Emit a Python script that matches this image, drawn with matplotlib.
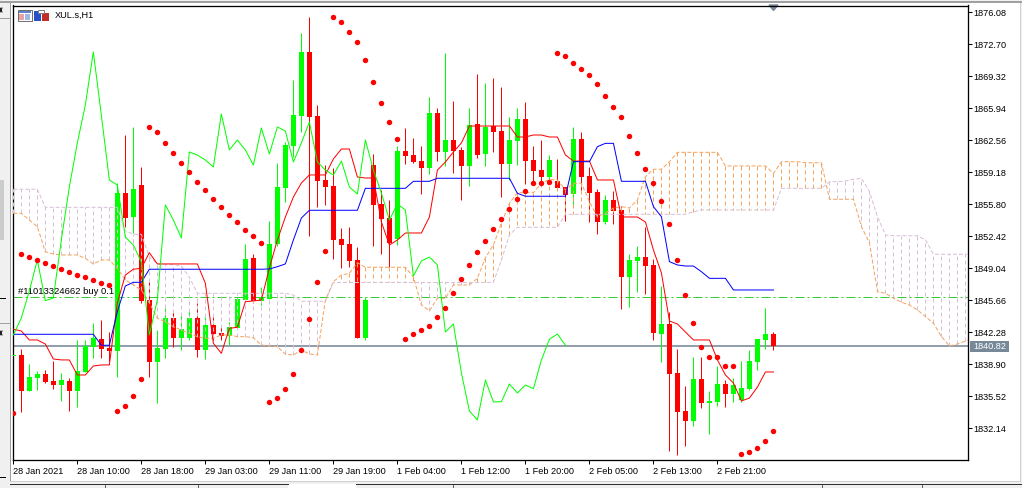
import matplotlib
matplotlib.use('Agg')
import matplotlib.pyplot as plt
from matplotlib.patches import Rectangle

plt.rcParams['font.family'] = ['Liberation Sans', 'DejaVu Sans']

opens = [1839.78, 1839.85, 1836.11, 1837.49, 1837.88, 1837.14, 1836.75, 1837.14, 1836.11, 1838.09, 1840.76, 1841.57,
         1840.65, 1840.34, 1856.99, 1854.46, 1857.84, 1845.69, 1839.14, 1840.52, 1843.79, 1841.68, 1841.68, 1843.79,
         1840.41, 1843.05, 1842.21, 1841.89, 1842.74, 1845.69, 1850.13, 1845.59, 1845.80, 1851.61, 1857.52, 1861.96,
         1865.13, 1871.89, 1865.13, 1858.37, 1857.73, 1852.14, 1851.61, 1849.92, 1841.68, 1859.95, 1855.83, 1854.35,
         1852.14, 1861.43, 1861.01, 1860.37, 1859.63, 1865.44, 1861.33, 1862.59, 1861.54, 1859.85, 1864.28, 1861.11,
         1864.07, 1863.54, 1860.06, 1862.49, 1864.81, 1860.48, 1859.42, 1858.68, 1858.26, 1857.63, 1856.89, 1862.70,
         1858.79, 1857.10, 1853.93, 1856.26, 1855.20, 1848.12, 1849.81, 1850.23, 1849.39, 1842.10, 1843.16, 1837.98,
         1833.97, 1832.91, 1837.35, 1834.81, 1834.92, 1836.82, 1835.76, 1835.13, 1836.29, 1839.14, 1841.47, 1842.10]
closes = [1839.88, 1836.11, 1837.56, 1837.88, 1837.03, 1836.75, 1837.24, 1836.11, 1838.19, 1840.83, 1841.68, 1840.55,
          1840.34, 1856.99, 1854.35, 1857.42, 1845.59, 1839.14, 1840.62, 1843.79, 1841.68, 1842.63, 1843.79, 1840.41,
          1843.05, 1842.10, 1841.89, 1842.84, 1845.80, 1850.02, 1845.59, 1846.01, 1851.61, 1857.63, 1862.06, 1865.23,
          1871.89, 1865.02, 1858.26, 1857.63, 1852.03, 1851.50, 1849.81, 1841.68, 1845.69, 1855.73, 1854.25, 1851.71,
          1861.43, 1860.90, 1860.27, 1859.63, 1865.44, 1861.33, 1862.59, 1861.43, 1859.85, 1864.18, 1861.01, 1863.97,
          1863.44, 1860.06, 1862.59, 1864.81, 1860.37, 1859.32, 1858.68, 1860.48, 1857.52, 1856.78, 1862.70, 1858.68,
          1856.99, 1853.93, 1856.26, 1855.09, 1848.12, 1849.92, 1850.23, 1849.28, 1842.21, 1843.16, 1837.88, 1833.86,
          1832.91, 1837.35, 1834.81, 1835.02, 1836.82, 1835.76, 1836.71, 1836.40, 1839.25, 1841.57, 1842.10, 1840.82]
highs = [1839.88, 1840.52, 1838.93, 1838.22, 1838.30, 1839.25, 1837.98, 1837.45, 1841.47, 1841.47, 1843.23, 1843.58,
         1842.28, 1858.05, 1863.12, 1863.97, 1859.74, 1847.63, 1842.52, 1844.85, 1844.56, 1844.11, 1844.74, 1845.34,
         1843.93, 1843.87, 1842.84, 1843.40, 1846.04, 1851.61, 1850.55, 1847.07, 1854.04, 1860.16, 1862.38, 1868.93,
         1873.89, 1875.58, 1866.29, 1859.95, 1859.63, 1853.30, 1853.40, 1851.29, 1846.01, 1861.11, 1857.31, 1856.26,
         1861.96, 1863.86, 1862.80, 1861.96, 1867.14, 1865.97, 1871.78, 1866.71, 1861.85, 1865.97, 1869.56, 1868.61,
         1869.14, 1868.19, 1865.02, 1865.97, 1866.61, 1861.96, 1862.59, 1861.01, 1860.59, 1857.63, 1863.97, 1863.44,
         1859.74, 1857.42, 1856.78, 1857.21, 1855.62, 1850.55, 1851.40, 1853.43, 1850.02, 1847.17, 1844.42, 1840.52,
         1836.61, 1839.67, 1839.67, 1836.08, 1838.72, 1837.24, 1837.45, 1839.25, 1840.41, 1841.57, 1844.85, 1842.31]
lows = [1839.78, 1833.89, 1836.11, 1836.22, 1836.93, 1836.32, 1835.06, 1834.00, 1834.42, 1838.05, 1839.53, 1839.53,
        1839.28, 1837.53, 1853.40, 1852.77, 1845.38, 1837.59, 1834.85, 1839.53, 1840.76, 1840.41, 1841.47, 1839.70,
        1839.46, 1841.47, 1841.47, 1840.94, 1842.74, 1845.69, 1845.38, 1845.16, 1845.80, 1851.40, 1856.04, 1860.80,
        1863.44, 1852.45, 1855.52, 1855.73, 1850.02, 1849.07, 1849.18, 1841.68, 1841.47, 1851.40, 1850.55, 1849.18,
        1851.50, 1860.06, 1860.16, 1856.89, 1859.00, 1860.37, 1859.85, 1859.11, 1856.26, 1857.73, 1860.69, 1859.85,
        1861.33, 1856.57, 1858.37, 1859.95, 1857.95, 1858.05, 1858.05, 1858.05, 1857.31, 1854.04, 1855.62, 1857.31,
        1853.93, 1852.66, 1853.72, 1853.72, 1844.74, 1844.95, 1846.54, 1846.33, 1841.47, 1839.14, 1829.74, 1829.32,
        1830.27, 1832.38, 1834.28, 1831.54, 1834.50, 1834.39, 1834.92, 1834.92, 1836.19, 1838.30, 1840.52, 1840.41]

tenkan = [1842.60, 1842.42, 1841.47, 1841.47, 1841.04, 1839.46, 1839.36, 1839.36, 1837.77, 1837.77, 1838.72, 1838.83,
          1838.83, 1845.38, 1848.33, 1848.94, 1849.04, 1850.69, 1849.50, 1849.50, 1849.50, 1849.50, 1849.50, 1849.50,
          1847.46, 1841.12, 1840.06, 1842.70, 1842.81, 1845.51, 1845.59, 1845.69, 1849.07, 1852.03, 1854.46, 1856.57,
          1858.05, 1858.90, 1858.90, 1858.90, 1860.59, 1861.64, 1861.64, 1858.68, 1858.58, 1858.58, 1853.93, 1851.50,
          1852.03, 1852.77, 1852.77, 1852.77, 1854.46, 1859.42, 1860.27, 1861.33, 1862.28, 1864.07, 1864.07, 1864.07,
          1864.07, 1864.07, 1864.07, 1862.91, 1862.91, 1863.12, 1863.12, 1862.91, 1862.91, 1861.01, 1860.37, 1860.37,
          1860.37, 1858.37, 1858.37, 1858.37, 1854.46, 1854.46, 1854.46, 1853.93, 1850.97, 1848.54, 1843.47, 1843.16,
          1842.31, 1841.47, 1841.47, 1841.47, 1839.36, 1837.77, 1836.92, 1835.02, 1835.34, 1836.50, 1838.09, 1838.09]
kijun = [1842.07, 1842.07, 1842.07, 1842.07, 1842.07, 1842.07, 1842.07, 1842.07, 1842.07, 1842.07, 1842.07, 1840.91,
         1840.91, 1844.46, 1847.17, 1847.56, 1847.56, 1848.94, 1848.94, 1848.94, 1848.94, 1848.94, 1848.94, 1848.94,
         1848.94, 1848.94, 1848.94, 1848.94, 1848.94, 1848.94, 1848.94, 1848.94, 1848.97, 1849.21, 1849.50, 1852.03,
         1854.35, 1855.17, 1855.17, 1855.17, 1855.17, 1855.17, 1855.17, 1855.17, 1857.49, 1857.49, 1857.49, 1857.49,
         1857.49, 1857.49, 1858.23, 1858.23, 1858.23, 1858.55, 1858.55, 1858.55, 1858.55, 1858.55, 1858.55, 1858.55,
         1858.55, 1858.55, 1858.55, 1856.96, 1856.65, 1856.65, 1856.65, 1856.65, 1856.65, 1856.65, 1860.30, 1860.30,
         1860.30, 1861.89, 1862.24, 1862.24, 1858.23, 1858.23, 1858.23, 1858.23, 1855.55, 1854.49, 1849.74, 1849.39,
         1849.28, 1849.28, 1848.68, 1847.98, 1847.98, 1847.98, 1846.75, 1846.75, 1846.75, 1846.75, 1846.75, 1846.75]
chikou = [1842.00, 1843.79, 1846.64, 1849.92, 1845.62, 1845.90, 1852.03, 1857.63, 1862.28, 1866.29, 1871.89, 1865.23,
          1858.37, 1857.84, 1852.35, 1851.50, 1849.71, 1842.00, 1845.69, 1855.73, 1854.14, 1852.24, 1861.33, 1861.01,
          1860.48, 1859.74, 1865.34, 1861.54, 1862.59, 1861.54, 1859.95, 1863.86, 1861.11, 1863.97, 1863.54, 1860.27,
          1862.28, 1864.49, 1860.27, 1859.42, 1858.90, 1860.37, 1857.63, 1856.89, 1862.59, 1859.42, 1857.00, 1854.14,
          1855.83, 1855.20, 1848.23, 1849.81, 1850.23, 1849.39, 1842.31, 1843.16, 1837.98, 1833.97, 1833.02, 1837.24,
          1834.92, 1834.95, 1836.82, 1835.87, 1836.71, 1836.32, 1839.36, 1841.54, 1842.10, 1840.91]
sar = [1833.72, 1850.52, 1850.20, 1849.89, 1849.57, 1849.25, 1848.94, 1848.62, 1848.30, 1848.09, 1847.77, 1847.46,
       1847.25, 1833.94, 1834.46, 1835.52, 1837.32, 1863.93, 1863.41, 1862.24, 1861.19, 1860.13, 1859.18, 1858.12,
       1857.28, 1856.33, 1855.48, 1854.64, 1853.90, 1853.05, 1852.42, 1851.71, 1834.88, 1835.31, 1836.26, 1837.84,
       1840.38, 1843.65, 1847.56, 1850.84, 1875.55, 1875.03, 1873.97, 1872.91, 1871.01, 1868.69, 1866.47, 1864.46,
       1862.67, 1841.54, 1842.07, 1842.49, 1842.91, 1843.87, 1844.82, 1846.40, 1847.88, 1849.36, 1850.73, 1851.89,
       1853.16, 1854.22, 1855.27, 1856.33, 1857.17, 1858.02, 1858.02, 1858.12, 1871.75, 1871.43, 1870.69, 1870.06,
       1869.43, 1868.48, 1867.21, 1866.05, 1864.99, 1862.98, 1861.19, 1859.50, 1858.02, 1856.12, 1853.69, 1849.89,
       1846.19, 1843.23, 1840.70, 1839.64, 1839.64, 1838.69, 1838.69, 1829.40, 1829.61, 1830.03, 1830.77, 1831.82]
senkou_a = [1854.85, 1854.85, 1854.14, 1853.43, 1850.79, 1850.55, 1850.45, 1850.45, 1850.45, 1850.10, 1849.50, 1849.92,
            1849.92, 1849.04, 1847.81, 1847.28, 1846.75, 1845.38, 1843.76, 1843.40, 1842.87, 1842.52, 1842.17, 1841.82,
            1841.65, 1841.65, 1842.00, 1842.00, 1841.82, 1841.82, 1841.71, 1840.94, 1840.83, 1840.76, 1839.96, 1839.88,
            1840.41, 1839.99, 1839.88, 1845.69, 1847.63, 1848.33, 1848.51, 1849.63, 1849.15, 1849.15, 1849.15, 1849.15,
            1849.15, 1849.15, 1848.12, 1845.16, 1844.56, 1845.87, 1845.87, 1847.28, 1847.28, 1847.28, 1847.98, 1850.16,
            1851.50, 1853.79, 1855.91, 1857.03, 1857.03, 1857.03, 1858.02, 1858.44, 1858.37, 1857.31, 1858.02, 1858.02,
            1856.08, 1854.49, 1854.88, 1855.41, 1855.55, 1855.41, 1856.26, 1858.72, 1859.50, 1859.50, 1860.30, 1861.29,
            1861.29, 1861.29, 1861.29, 1861.29, 1861.29, 1859.85, 1859.85, 1859.85, 1859.85, 1859.85, 1859.85, 1859.07,
            1860.30, 1860.30, 1860.30, 1860.19, 1860.19, 1860.19, 1856.33, 1856.33, 1856.33, 1856.33, 1853.43, 1851.71,
            1846.57, 1846.40, 1845.87, 1845.45, 1845.16, 1844.64, 1843.93, 1843.23, 1841.82, 1840.83, 1841.04, 1841.36,
            1841.68]
senkou_b = [1857.39, 1857.39, 1857.39, 1857.39, 1855.48, 1855.48, 1855.48, 1855.48, 1855.48, 1855.48, 1855.48, 1855.48,
            1855.48, 1855.48, 1853.01, 1852.63, 1852.63, 1850.27, 1849.50, 1849.42, 1849.42, 1849.28, 1848.09, 1846.40,
            1846.40, 1846.40, 1846.40, 1846.40, 1846.40, 1846.40, 1846.40, 1846.40, 1846.40, 1846.40, 1846.40, 1846.22,
            1845.56, 1845.56, 1845.56, 1845.56, 1847.54, 1847.54, 1847.54, 1847.54, 1847.54, 1847.54, 1847.54, 1847.54,
            1847.54, 1847.54, 1847.54, 1847.54, 1847.54, 1847.54, 1847.54, 1847.54, 1847.54, 1847.54, 1847.54, 1847.54,
            1847.56, 1849.92, 1852.56, 1853.37, 1853.37, 1853.37, 1853.37, 1853.37, 1853.37, 1854.74, 1854.74, 1854.74,
            1854.74, 1854.74, 1854.74, 1854.74, 1854.74, 1854.74, 1854.74, 1854.74, 1854.74, 1854.74, 1854.74, 1854.74,
            1854.74, 1855.02, 1855.20, 1855.20, 1855.20, 1855.20, 1855.20, 1855.20, 1855.20, 1855.20, 1855.20, 1855.20,
            1857.49, 1857.49, 1857.49, 1857.49, 1857.49, 1857.49, 1858.19, 1858.19, 1858.26, 1858.44, 1858.55, 1857.13,
            1854.49, 1852.56, 1852.48, 1852.48, 1852.48, 1852.48, 1852.03, 1850.52, 1850.52, 1850.52, 1850.52, 1850.52,
            1850.52]

price_ticks = [1876.08, 1872.70, 1869.32, 1865.94, 1862.56, 1859.18, 1855.80, 1852.42, 1849.04, 1845.66, 1842.28,
               1838.90, 1835.52, 1832.14]
time_labels = ['28 Jan 2021', '28 Jan 10:00', '28 Jan 18:00', '29 Jan 03:00', '29 Jan 11:00', '29 Jan 19:00',
               '1 Feb 04:00', '1 Feb 12:00', '1 Feb 20:00', '2 Feb 05:00', '2 Feb 13:00', '2 Feb 21:00']
last_price = 1840.82
order_price = 1845.98
order_label = '#11013324662 buy 0.1'

W, H = 1022, 488
PX = 0.72  # one pixel in points at dpi=100
ORANGE = '#F4A460'
THISTLE = '#D8BFD8'
SLATE = '#778899'
LIME = '#00FF00'

fig = plt.figure(figsize=(W / 100, H / 100), dpi=100, facecolor='#F0F0F0')

# window chrome, in pixels
bg = fig.add_axes([0, 0, 1, 1])
bg.set_xlim(0, W)
bg.set_ylim(H, 0)
bg.axis('off')
bg.add_patch(Rectangle((10, 3), 1010, 478, fc='white', ec='none'))
bg.plot([0, W], [2, 2], color='#A0A0A0', lw=PX * 2)
bg.plot([10, 10], [3, 481], color='#A0A0A0', lw=PX)
bg.plot([1020, 1020], [3, 481], color='#D0D0D0', lw=PX)
bg.plot([10, 1020], [481, 481], color='#D0D0D0', lw=PX)
bg.plot([0, 9], [18, 18], color='#A0A0A0', lw=PX)
bg.plot([0, 9], [323, 323], color='#A0A0A0', lw=PX)
bg.add_patch(Rectangle((0, 180), 4, 60, fc='#CCCCCC', ec='none'))
bg.plot([0, 5], [298, 298], color='black', lw=PX)
bg.plot([0, 5], [477, 477], color='black', lw=PX)
bg.plot([0, 2], [8, 12], color='black', lw=PX)
bg.plot([0, 2], [12, 8], color='black', lw=PX)
bg.plot([0, 2], [331, 335], color='black', lw=PX)
bg.plot([0, 2], [335, 331], color='black', lw=PX)
bg.add_patch(Rectangle((288, 484), 68, 4, fc='white', ec='none'))
bg.plot([10, 288], [484, 484], color='#303030', lw=PX)
bg.plot([356, W], [484, 484], color='#303030', lw=PX)
for tab_x in [105, 198, 453, 822, 922]:
    bg.plot([tab_x, tab_x], [485, 488], color='#606060', lw=PX)

# toolbar icons
bg.add_patch(Rectangle((17.5, 9.5), 14, 11, fc='white', ec='#707070', lw=PX))
bg.add_patch(Rectangle((18.5, 10.5), 12, 2, fc='#6080D0', ec='none'))
bg.add_patch(Rectangle((19, 13.5), 5, 6, fc='#F0A0A0', ec='none'))
bg.add_patch(Rectangle((25, 13.5), 5, 6, fc='#A0B8E8', ec='none'))
bg.add_patch(Rectangle((34, 11), 6.5, 9.5, fc='#2850C8', ec='none'))
bg.add_patch(Rectangle((42, 13), 7, 7.5, fc='#C03028', ec='none'))
bg.add_patch(Rectangle((38, 10), 6, 3, fc='white', ec='#808080', lw=PX))
bg.text(54.5, 15.5, 'XUL.s,H1', fontsize=6.6, va='center', ha='left', color='black')
bg.fill([769, 778, 773.5], [5, 5, 10.5], color=SLATE)

# chart area
left, right, top, bottom = 13, 967.5, 5.5, 460
ax = fig.add_axes([left / W, 1 - bottom / H, (right - left) / W, (bottom - top) / H], facecolor='none')
ax.set_xlim(-0.04, 119.25)
ax.set_ylim(1828.79, 1876.80)

ax.axhline(last_price, color=SLATE, lw=PX * 1.6, zorder=1)
ax.axhline(order_price, color='#32CD32', lw=PX, ls=(0, (9, 3, 2, 3)), zorder=1)
ax.text(18.5, 291, order_label, fontsize=6.8, va='center', ha='left', zorder=1,
        transform=bg.transData, clip_on=False)

# candles
xs = range(len(opens))
colors = ['#00FF00' if c >= o else '#FF0000' for o, c in zip(opens, closes)]
ax.vlines(xs, lows, highs, colors=colors, lw=PX, zorder=2)
ax.bar(xs, [abs(c - o) for o, c in zip(opens, closes)], bottom=[min(o, c) for o, c in zip(opens, closes)],
       width=0.625, color=colors, lw=0, antialiased=False, zorder=3)

# ichimoku cloud
cloud_x = range(len(senkou_a))
hatch_colors = [ORANGE if a > b else THISTLE for a, b in zip(senkou_a, senkou_b)]
ax.vlines(cloud_x, senkou_a, senkou_b, colors=hatch_colors, lw=PX, linestyles=[(0, (4, 3))], zorder=4)
ax.plot(cloud_x, senkou_a, color=ORANGE, lw=PX, ls=(0, (4, 2)), zorder=4)
ax.plot(cloud_x, senkou_b, color=THISTLE, lw=PX, ls=(0, (4, 2)), zorder=4)

ax.plot(range(len(tenkan)), tenkan, color='#FF0000', lw=PX, zorder=5)
ax.plot(range(len(kijun)), kijun, color='#0000FF', lw=PX, zorder=5)
ax.plot(range(len(chikou)), chikou, color=LIME, lw=PX, zorder=5)
ax.plot(range(len(sar)), sar, ls='none', marker='o', ms=3.9, mfc='#FF0000', mec='none', zorder=6)

# axes
for spine in ax.spines.values():
    spine.set_linewidth(PX * 1.3)
    spine.set_color('black')
ax.yaxis.tick_right()
ax.set_yticks(price_ticks)
ax.set_yticklabels([f'{p:.2f}' for p in price_ticks])
ax.tick_params(axis='y', length=3.2, width=PX, pad=1.2, labelsize=6.6)
ax.set_xticks(range(0, 96, 8))
ax.set_xticklabels(time_labels, ha='left')
ax.tick_params(axis='x', length=3.2, width=PX, pad=1.8, labelsize=6.6)

# last price tag
bg.add_patch(Rectangle((970, 341), 39, 11, fc=SLATE, ec='none'))
bg.text(973, 346.5, f'{last_price:.2f}', fontsize=6.6, va='center', ha='left', color='white')

fig.savefig('out.png', dpi=100, facecolor=fig.get_facecolor())
